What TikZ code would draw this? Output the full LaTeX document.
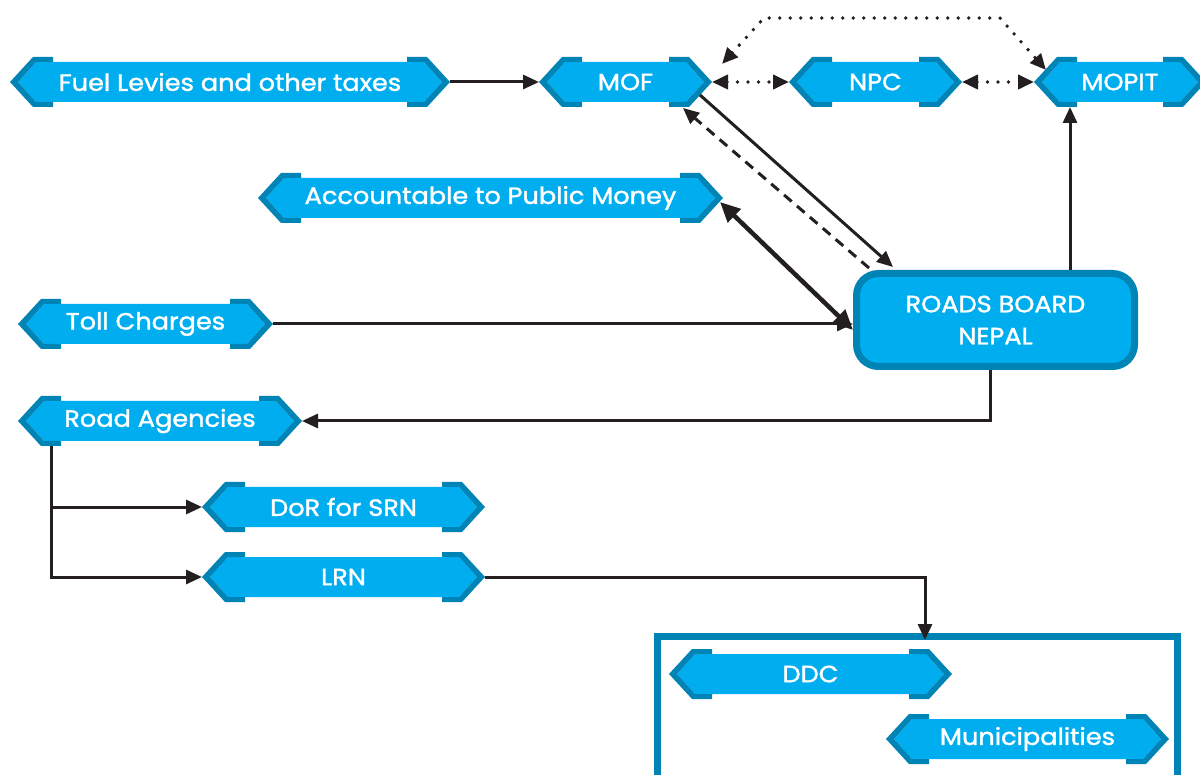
\documentclass[tikz,border=0pt]{standalone}
\usepackage{fontspec}
\setmainfont{Poppins}[FakeStretch=1.09,FakeBold=1.5]
\usetikzlibrary{arrows.meta,backgrounds}
\definecolor{lb}{HTML}{00AEEF}
\definecolor{db}{HTML}{0083B5}
\definecolor{ink}{HTML}{231F20}
\newcommand\hexdeco[1]{%
\begin{pgfonlayer}{background}
\fill[lb] ([shift={(8,0)}]#1.west) -- ([shift={(26,5)}]#1.north west) -- ([shift={(-26,5)}]#1.north east) -- ([shift={(-8,0)}]#1.east) -- ([shift={(-26,-5)}]#1.south east) -- ([shift={(26,-5)}]#1.south west) -- cycle;
\fill[db] ([shift={(43,0)}]#1.north west) -- ([shift={(23,0)}]#1.north west) -- (#1.west) -- ([shift={(23,0)}]#1.south west) -- ([shift={(43,0)}]#1.south west) -- ([shift={(43,-5)}]#1.south west) -- ([shift={(26,-5)}]#1.south west) -- ([shift={(8,0)}]#1.west) -- ([shift={(26,5)}]#1.north west) -- ([shift={(43,5)}]#1.north west) -- cycle;
\fill[db] ([shift={(-43,0)}]#1.north east) -- ([shift={(-23,0)}]#1.north east) -- (#1.east) -- ([shift={(-23,0)}]#1.south east) -- ([shift={(-43,0)}]#1.south east) -- ([shift={(-43,-5)}]#1.south east) -- ([shift={(-26,-5)}]#1.south east) -- ([shift={(-8,0)}]#1.east) -- ([shift={(-26,5)}]#1.north east) -- ([shift={(-43,5)}]#1.north east) -- cycle;
\end{pgfonlayer}}
\begin{document}
\begin{tikzpicture}[x=1pt,y=-1pt,
  hexn/.style={minimum height=50, inner sep=0, outer sep=0, text=white, font=\fontsize{23.5}{30}\selectfont},
  arr/.style={draw=ink, line width=3, -{Triangle[length=16,width=14]}},
  dotline/.style={draw=ink, line width=3.8, line cap=round, dash pattern=on 0pt off 10.5pt, {Triangle[length=16,width=14]}-{Triangle[length=16,width=14]}},
]
\begin{pgfonlayer}{background}
\fill[white] (0,0) rectangle (1200,775);
\end{pgfonlayer}
\useasboundingbox (0,0) rectangle (1200,775);

\node[hexn, minimum width=440] (fuel) at (230,82) {Fuel Levies and other taxes};
\node[hexn, minimum width=173] (mof) at (625.5,82) {MOF};
\node[hexn, minimum width=173] (npc) at (875.5,82) {NPC};
\node[hexn, minimum width=172] (mopit) at (1120,82) {MOPIT};
\node[hexn, minimum width=465] (acc) at (490.5,198) {Accountable to Public Money};
\node[hexn, minimum width=255] (toll) at (145.5,324) {Toll Charges};
\node[hexn, minimum width=284] (road) at (160,421) {Road Agencies};
\node[hexn, minimum width=283] (dor) at (343.5,507) {DoR for SRN};
\node[hexn, minimum width=283] (lrn) at (343.5,577) {LRN};
\node[hexn, minimum width=283] (ddc) at (810.5,674) {DDC};
\node[hexn, minimum width=283] (muni) at (1027.5,739) {Municipalities};
\foreach \n in {fuel,mof,npc,mopit,acc,toll,road,dor,lrn,ddc,muni}{\hexdeco{\n}}

\node[draw=db, fill=lb, line width=7, rounded corners=22, minimum width=278, minimum height=93, text=white, align=center, font=\fontsize{23.5}{32}\selectfont] (rbn) at (995.5,320) {\raisebox{-3pt}{ROADS BOARD}\\\raisebox{-3pt}{NEPAL}};

\node[draw=db, line width=7, minimum width=520, minimum height=200, anchor=north west, outer sep=0] (grp) at (657.5,636.5) {};

% connectors
\draw[arr] (fuel.east) -- (mof.west);
\draw[dotline] (mof.east) -- (npc.west);
\draw[dotline] (npc.east) -- (mopit.west);
\coordinate (dl) at (722,64);
\coordinate (dr) at (1046,70);
\draw[dotline] (dl) -- (764,18) -- (1000,18) -- (dr);
\draw[arr] ([shift={(-12,13)}]mof.east) -- ([shift={(40,-3)}]rbn.north west);
\draw[arr, dash pattern=on 10pt off 7pt] ([shift={(16,-2)}]rbn.north west) -- ([shift={(-29,26)}]mof.east);
\draw[draw=ink, line width=4.5, {Triangle[length=20,width=18]}-{Triangle[length=20,width=18]}] ([shift={(-3,4)}]acc.east) -- ([yshift=-10]rbn.west);
\draw[arr] (toll.east) -- (toll.east -| rbn.west);
\coordinate (upx) at (1070,0);
\draw[arr] (upx |- rbn.north) -- (upx |- mopit.south);
\coordinate (dnx) at (990,0);
\draw[arr] (dnx |- rbn.south) |- (road.east);
\coordinate (vx) at (51,0);
\draw[arr] (vx |- road.south) |- (dor.west);
\draw[arr] (vx |- road.south) |- (lrn.west);
\coordinate (gx) at (925,0);
\draw[arr] (lrn.east) -| ([yshift=-3.5]gx |- grp.north);
\end{tikzpicture}
\end{document}
